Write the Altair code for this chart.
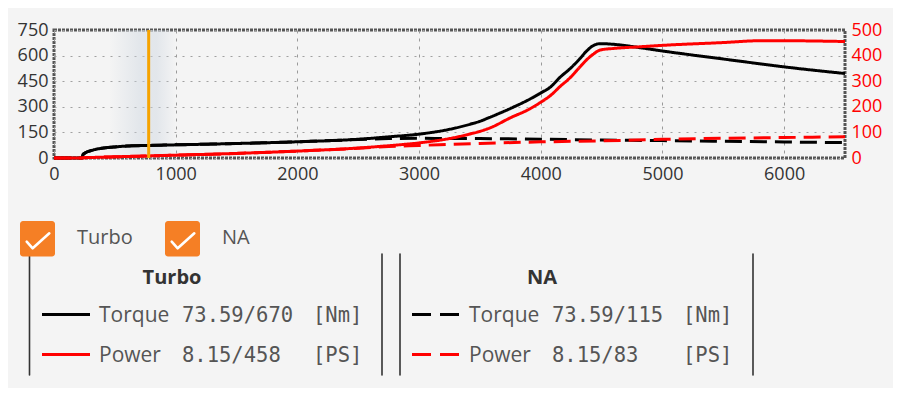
import altair as alt
import pandas as pd

# ---------------- data ----------------
turbo_rpm = [0, 230, 240, 327, 406, 500, 600, 778, 1000, 1500,
             2000, 2500, 2750, 3000, 3250, 3420, 3500, 3580, 3750, 3910,
             4000, 4080, 4160, 4240, 4320, 4380, 4430, 4490, 4600, 4800,
             5000, 5500, 5800, 6000, 6500]
turbo_torque = [0, 0, 22, 48, 58, 65, 70, 73.59, 77, 85,
                95, 110, 124, 140, 168, 198, 215, 238, 290, 345,
                381, 416, 474, 523, 581, 629, 658, 670, 666, 648,
                627, 580, 552, 534, 495]
turbo_power = [0, 0, 0.8, 2.2, 3.4, 4.6, 6.0, 8.15, 11, 18,
               27, 39, 48, 59, 76, 94, 104, 117, 157, 192,
               218, 244, 280, 313, 355, 385, 405, 422, 428, 434,
               440, 451, 458, 458, 455]

na_rpm = [0, 230, 240, 327, 406, 500, 600, 778, 1000, 1500,
          2000, 2500, 2750, 3000, 3500, 4000, 4500, 5000, 5500, 6000, 6500]
na_torque = [0, 0, 22, 48, 58, 65, 70, 73.59, 77, 85,
             95, 108, 114, 115, 114, 110, 105, 102, 98, 94, 90]
na_power = [0, 0, 0.8, 2.2, 3.4, 4.6, 6.0, 8.15, 11, 18,
            27, 38, 45, 49, 57, 63, 67, 73, 77, 80, 83]

cursor_rpm = 778
series_names = ["Turbo", "NA"]
x_ticks = [0, 1000, 2000, 3000, 4000, 5000, 6000]
torque_ticks = [0, 150, 300, 450, 600, 750]
power_ticks = [0, 100, 200, 300, 400, 500]
torque_unit = "[Nm]"
power_unit = "[PS]"

# ---------------- layout ----------------
W, H = 791, 128
X0, Y0 = 54, 30          # page position of the plot's top-left corner
PAD = {"left": 46, "top": 22, "right": 48, "bottom": 230}
SANS = "Open Sans"
MONO = "DejaVu Sans Mono"
ORANGE_BOX = "#f57f25"


def px(x):
    return x - X0


def py(y):
    return y - Y0


def frame(series, rpm, vals):
    return pd.DataFrame({"rpm": rpm, "value": vals, "series": series})


tq_df = pd.concat([frame("Turbo", turbo_rpm, turbo_torque),
                   frame("NA", na_rpm, na_torque)])
pw_df = pd.concat([frame("Turbo", turbo_rpm, turbo_power),
                   frame("NA", na_rpm, na_power)])

xscale = alt.Scale(domain=[0, 6500], nice=False, zero=False)
xaxis = alt.Axis(values=x_ticks, title=None, grid=True, gridDash=[3, 5],
                 gridColor="#9a9a9a", gridWidth=1, domain=False, ticks=False,
                 labelPadding=7, labelFont=SANS, labelFontSize=18, format="d",
                 labelColor="#333", labelFlush=False, labelOverlap=False)
X = alt.X("rpm:Q", scale=xscale, axis=xaxis)

dash = alt.StrokeDash("series:N",
                      scale=alt.Scale(domain=series_names, range=[[1, 0], [17, 8]]),
                      legend=None)

torque_lines = alt.Chart(tq_df).mark_line(
    color="#000000", strokeWidth=3, interpolate="monotone").encode(
    x=X,
    y=alt.Y("value:Q", scale=alt.Scale(domain=[0, 750], nice=False),
            axis=alt.Axis(values=torque_ticks, title=None, grid=True,
                          gridDash=[2, 6], gridColor="#a0a0a0", domain=False,
                          ticks=False, labelPadding=6, labelFont=SANS,
                          labelFontSize=18, labelColor="#333",
                          labelFlush=False, labelOverlap=False)),
    strokeDash=dash,
    order=alt.Order("rpm:Q"),
)

power_lines = alt.Chart(pw_df).mark_line(
    color="#ff0000", strokeWidth=3, interpolate="monotone").encode(
    x=X,
    y=alt.Y("value:Q", scale=alt.Scale(domain=[0, 500], nice=False),
            axis=alt.Axis(values=power_ticks, title=None, orient="right",
                          grid=False, domain=False, ticks=False,
                          labelPadding=6, labelFont=SANS, labelFontSize=18,
                          labelColor="#ff0000", labelFlush=False,
                          labelOverlap=False)),
    strokeDash=dash,
    order=alt.Order("rpm:Q"),
)

# highlight band around the cursor
band = alt.Chart(pd.DataFrame({"a": [cursor_rpm - 320], "b": [cursor_rpm + 230]})).mark_rect(
    fill={"gradient": "linear", "x1": 0, "x2": 1, "y1": 0, "y2": 0,
          "stops": [{"offset": 0, "color": "rgba(205,214,224,0)"},
                    {"offset": 0.45, "color": "rgba(205,214,224,0.45)"},
                    {"offset": 0.7, "color": "rgba(205,214,224,0.45)"},
                    {"offset": 1, "color": "rgba(205,214,224,0)"}]}
).encode(x=alt.X("a:Q", scale=xscale, axis=xaxis), x2="b:Q")

cursor = alt.Chart(pd.DataFrame({"rpm": [cursor_rpm]})).mark_rule(
    color="#f6a300", strokeWidth=3).encode(x=X)

# ---------------- legend / controls ----------------
layers = []


def text(t, x, y, font=SANS, size=20, color="#555", weight="normal", align="left"):
    layers.append(alt.Chart(pd.DataFrame({"t": [t]})).mark_text(
        font=font, fontSize=size, color=color, fontWeight=weight,
        align=align, baseline="alphabetic").encode(
        x=alt.value(px(x)), y=alt.value(py(y)), text="t:N"))


def hline(x1, x2, y, color, d=None):
    kw = {} if d is None else {"strokeDash": d}
    layers.append(alt.Chart(pd.DataFrame({"k": [0]})).mark_rule(
        color=color, strokeWidth=3, **kw).encode(
        x=alt.value(px(x1)), x2=alt.value(px(x2)), y=alt.value(py(y))))


def vline(x, y1, y2):
    layers.append(alt.Chart(pd.DataFrame({"k": [0]})).mark_rule(
        color="#333", strokeWidth=1.6, strokeCap="round").encode(
        x=alt.value(px(x)), y=alt.value(py(y1)), y2=alt.value(py(y2))))


def checkbox(x, label):
    layers.append(alt.Chart(pd.DataFrame({"k": [0]})).mark_rect(
        fill=ORANGE_BOX, cornerRadius=3).encode(
        x=alt.value(px(x)), x2=alt.value(px(x + 35)),
        y=alt.value(py(221)), y2=alt.value(py(256.5))))
    layers.append(alt.Chart(pd.DataFrame({"k": [0]})).mark_point(
        shape="M-1,0.08L-0.47,0.66L1,-0.66", size=511, filled=False,
        color="white", strokeWidth=2.6, opacity=1, strokeCap="round",
        strokeJoin="round").encode(
        x=alt.value(px(x + 18)), y=alt.value(py(240.8))))
    text(label, x + 57, 243.5, size=20, color="#555")


# brackets first (the checkbox covers the top of the first one)
vline(29.5, 254, 375)
vline(382, 254, 375)
vline(400, 254, 375)
vline(753, 254, 375)

checkbox(20, series_names[0])
checkbox(165, series_names[1])


def at(rpm_list, vals, r):
    return vals[rpm_list.index(r)]


blocks = [
    (series_names[0], 0, turbo_rpm, turbo_torque, turbo_power, None),
    (series_names[1], 370, na_rpm, na_torque, na_power, [19, 9]),
]
for name, dx, rpm_l, tq_l, pw_l, d in blocks:
    text(name, 172 + dx, 283.5, size=20, color="#333", weight="bold", align="center")
    hline(42 + dx, 90 + dx, 314.5, "#000000", d)
    hline(42 + dx, 90 + dx, 354.5, "#ff0000", d)
    text("Torque", 99 + dx, 322, size=21)
    text("Power", 99 + dx, 362, size=21)
    text(f"{at(rpm_l, tq_l, cursor_rpm):.2f}/{max(tq_l):.0f}", 182 + dx, 322,
         font=MONO, size=20.5, color="#555")
    text(f"{at(rpm_l, pw_l, cursor_rpm):.2f}/{max(pw_l):.0f}", 182 + dx, 362,
         font=MONO, size=20.5, color="#555")
    text(torque_unit, 313 + dx, 322, font=MONO, size=20.5, color="#555")
    text(power_unit, 313 + dx, 362, font=MONO, size=20.5, color="#555")

chart = alt.layer(band, torque_lines, power_lines, cursor, *layers).resolve_scale(
    y="independent"
).properties(
    width=W, height=H,
    autosize=alt.AutoSizeParams(type="none"),
    padding=PAD,
    background="#f4f4f4",
).configure_view(
    stroke="#555555", strokeWidth=3, strokeDash=[3, 1]
)

chart.save("out.html", embed_options={"renderer": "svg", "actions": False})
